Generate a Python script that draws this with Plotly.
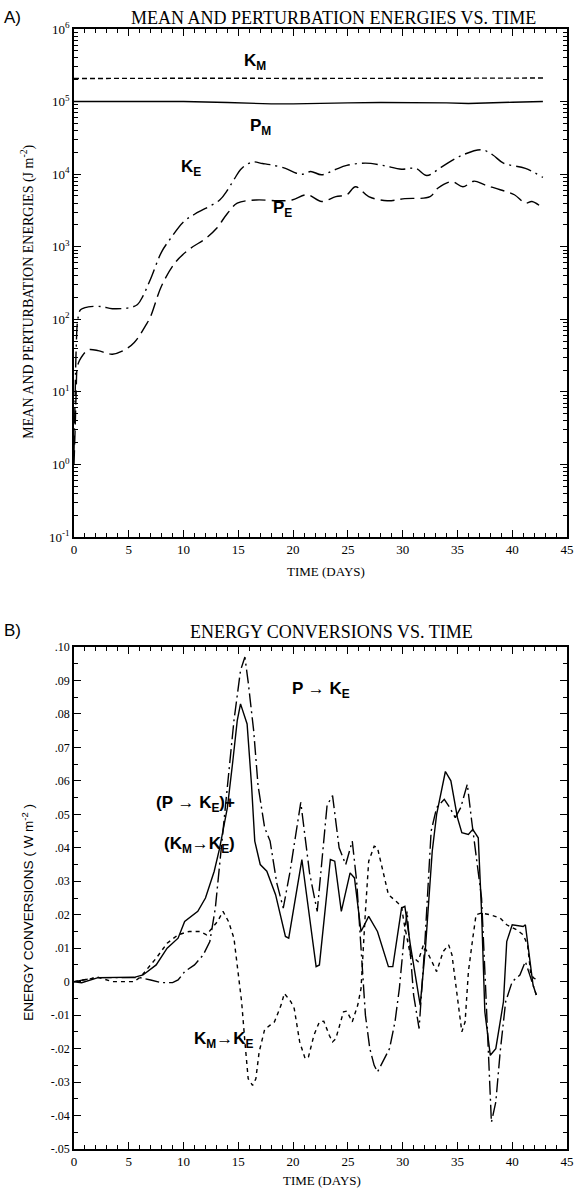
import plotly.graph_objects as go

# ---------------- Panel A data (days, J m^-2) ----------------
km_day = [0, 5, 10, 15, 20, 25, 30, 35, 40, 43]
km_val = [2.08e5, 2.1e5, 2.09e5, 2.1e5, 2.08e5, 2.09e5, 2.1e5, 2.09e5, 2.1e5, 2.11e5]

pm_day = [0, 3, 6, 10, 14, 16, 18, 20, 22, 25, 28, 31, 34, 36, 38, 40, 42.8]
pm_val = [1.0e5, 1.0e5, 1.01e5, 1.0e5, 0.97e5, 0.94e5, 0.93e5, 0.93e5, 0.95e5, 0.96e5,
          0.97e5, 0.97e5, 0.96e5, 0.94e5, 0.95e5, 0.98e5, 1.0e5]

ke_day = [0.0, 0.1, 0.2, 0.35, 0.6, 1.3, 2.5, 3.5, 5.1, 5.8,
          6.3, 7.0, 8.0, 8.8, 10.0, 11.0, 12.0, 13.3, 14.0, 14.6,
          15.3, 16.3, 17.2, 17.9, 19.3, 20.3, 21.0, 21.6, 22.6, 23.8,
          24.9, 26.6, 28.2, 29.9, 31.2, 32.2, 33.5, 35.2, 37.2, 38.2,
          39.2, 41.2, 42.8]
ke_val = [1.5, 8, 40, 100, 135, 148, 150, 140, 145, 160,
          210, 363, 850, 1290, 2200, 2800, 3370, 4400, 6000, 8400,
          12000, 14700, 14000, 13500, 12000, 10300, 10000, 10900, 9800, 11500,
          13200, 14200, 13200, 11700, 12000, 9600, 12400, 17600, 21700, 18500,
          14200, 12000, 9000]

pe_day = [0.0, 0.1, 0.2, 0.3, 0.5, 0.8, 1.3, 2.2, 3.0, 3.5,
          4.5, 5.5, 6.6, 7.0, 8.0, 9.3, 10.6, 12.0, 13.0, 14.0,
          14.9, 16.6, 18.6, 19.9, 21.3, 22.6, 23.9, 24.9, 25.7, 26.9,
          28.6, 30.2, 32.5, 33.2, 34.5, 35.5, 36.5, 37.5, 38.9, 40.2,
          41.2, 41.8, 42.8]
pe_val = [1.0, 3, 10, 22, 27, 32, 38, 37, 34, 33,
          37, 48, 85, 110, 290, 620, 940, 1290, 1780, 2870,
          3980, 4400, 4300, 4400, 5200, 4200, 4900, 5200, 6700, 4900,
          4300, 4600, 4900, 6400, 7900, 6700, 8000, 7100, 6100, 5200,
          3980, 4200, 3400]

# ---------------- Panel B data (days, W m^-2) ----------------
tot_day = [0, 0.7, 2.2, 3.5, 5.5, 6.3, 7.5, 8.5, 9.5, 10.1,
           11.3, 12.0, 12.8, 13.3, 14.0, 14.5, 14.9, 15.2, 15.8, 16.2,
           16.5, 17.0, 17.6, 18.4, 18.9, 19.3, 19.6, 20.8, 22.1, 22.4,
           23.4, 23.8, 24.4, 25.2, 25.6, 26.2, 26.9, 27.7, 28.7, 29.1,
           29.9, 30.2, 30.7, 31.6, 32.1, 32.7, 33.1, 33.9, 34.4, 34.8,
           35.0, 35.4, 36.0, 36.4, 36.9, 37.2, 37.5, 38.0, 38.5, 39.2,
           39.5, 40.0, 41.0, 41.2, 41.5, 41.9, 42.2]
tot_val = [0.0, -0.0003, 0.0012, 0.0013, 0.0013, 0.002, 0.005, 0.010, 0.013, 0.018,
           0.021, 0.025, 0.033, 0.040, 0.052, 0.066, 0.078, 0.083, 0.077, 0.059,
           0.042, 0.035, 0.033, 0.026, 0.019, 0.0135, 0.013, 0.0365, 0.0045, 0.005,
           0.0365, 0.036, 0.021, 0.0325, 0.031, 0.015, 0.0195, 0.015, 0.0045, 0.0045,
           0.022, 0.0225, 0.011, -0.007, 0.011, 0.039, 0.050, 0.0628, 0.060, 0.052,
           0.049, 0.0445, 0.044, 0.0455, 0.043, 0.021, -0.009, -0.022, -0.020, -0.006,
           0.012, 0.017, 0.0165, 0.017, 0.009, -0.001, -0.004]

pk_day = [0, 2, 4, 6, 7.0, 8.0, 9.0, 9.5, 10.1, 11.0,
          11.8, 12.4, 12.9, 13.5, 14.1, 14.6, 15.2, 15.6, 15.9, 16.4,
          16.8, 17.4, 17.9, 18.5, 19.1, 19.7, 20.7, 21.5, 22.2, 23.1,
          23.6, 24.2, 24.8, 25.4, 25.8, 26.2, 26.6, 27.0, 27.4, 27.7,
          28.2, 28.8, 29.3, 29.7, 30.1, 30.4, 31.0, 31.5, 32.0, 32.6,
          33.1, 33.8, 34.3, 34.8, 35.3, 35.9, 36.3, 36.7, 37.2, 37.6,
          37.9, 38.1, 38.5, 38.9, 39.4, 40.0, 40.7, 41.2, 41.5, 41.9,
          42.2]
pk_val = [0.0, 0.0012, 0.0012, 0.0012, 0.0005, -0.0003, -0.0003, 0.0005, 0.003, 0.005,
          0.008, 0.012, 0.022, 0.042, 0.063, 0.078, 0.093, 0.097, 0.0895, 0.075,
          0.0586, 0.046, 0.042, 0.0296, 0.022, 0.0325, 0.0536, 0.0325, 0.021, 0.0527,
          0.0556, 0.040, 0.035, 0.042, 0.030, 0.010, -0.010, -0.020, -0.025, -0.027,
          -0.024, -0.020, -0.012, -0.002, 0.012, 0.021, -0.004, -0.014, 0.010, 0.045,
          0.052, 0.0545, 0.052, 0.049, 0.052, 0.059, 0.048, 0.038, 0.025, -0.004,
          -0.030, -0.042, -0.036, -0.021, -0.006, 0.000, 0.002, 0.006, 0.003, -0.001,
          -0.004]

mk_day = [0, 1, 2.2, 3.5, 5.5, 6.1, 7.5, 8.5, 9.5, 10.5,
          11.5, 12.1, 13.1, 13.6, 14.1, 14.6, 15.0, 15.3, 15.6, 15.9,
          16.3, 16.6, 16.9, 17.4, 17.9, 18.3, 18.9, 19.2, 19.8, 20.1,
          20.6, 21.1, 21.4, 21.9, 22.4, 22.8, 23.3, 23.6, 23.9, 24.6,
          24.9, 25.4, 25.9, 26.2, 26.6, 26.9, 27.4, 27.7, 28.2, 28.7,
          29.4, 29.9, 30.1, 30.7, 31.4, 31.9, 32.6, 33.1, 33.7, 34.2,
          34.5, 35.0, 35.4, 35.7, 36.0, 36.4, 36.7, 37.2, 38.0, 38.9,
          39.5, 40.4, 41.0, 41.4, 41.7, 42.0, 42.4]
mk_val = [0.0, 0.0005, 0.0013, 0.0, 0.0, 0.0015, 0.007, 0.0115, 0.014, 0.015,
          0.015, 0.014, 0.018, 0.021, 0.018, 0.013, 0.001, -0.006, -0.018, -0.029,
          -0.031, -0.029, -0.021, -0.0143, -0.013, -0.012, -0.007, -0.0035, -0.006, -0.008,
          -0.018, -0.023, -0.0225, -0.016, -0.012, -0.0118, -0.016, -0.018, -0.017, -0.009,
          -0.0088, -0.012, -0.007, -0.002, 0.021, 0.036, 0.0405, 0.040, 0.033, 0.026,
          0.024, 0.0225, 0.018, 0.008, 0.006, 0.011, 0.0065, 0.003, 0.009, 0.011,
          0.008, -0.005, -0.015, -0.012, 0.003, 0.013, 0.020, 0.0205, 0.020, 0.019,
          0.017, 0.0155, 0.014, 0.011, 0.002, 0.001, 0.0005]

x_ticks = [0, 5, 10, 15, 20, 25, 30, 35, 40, 45]
a_ticks = [0.1, 1, 10, 100, 1e3, 1e4, 1e5, 1e6]
a_ticktext = ["10<sup>-1</sup>", "10<sup>0</sup>", "10<sup>1</sup>", "10<sup>2</sup>",
              "10<sup>3</sup>", "10<sup>4</sup>", "10<sup>5</sup>", "10<sup>6</sup>"]
b_ticks = [0.10, 0.09, 0.08, 0.07, 0.06, 0.05, 0.04, 0.03, 0.02, 0.01, 0.0,
           -0.01, -0.02, -0.03, -0.04, -0.05]
b_ticktext = [".10", ".09", ".08", ".07", ".06", ".05", ".04", ".03", ".02", ".01", "0",
              "-.01", "-.02", "-.03", "-.04", "-.05"]

# ---------------- layout geometry (pixels) ----------------
W, H = 582, 1192
L, R, T, B = 74, 8, 29, 43
PW, PH = W - L - R, H - T - B


def pxx(x):
    return (x - L) / PW


def pxy(y):
    return 1 - (y - T) / PH


SERIF = "Liberation Serif, Times New Roman, serif"
SANS = "Liberation Sans, Arial, DejaVu Sans, sans-serif"

fig = go.Figure()
line_w = 1.4
fig.add_trace(go.Scatter(x=km_day, y=km_val, mode="lines", xaxis="x", yaxis="y",
                         line=dict(color="black", width=line_w, dash="5px,3px")))
fig.add_trace(go.Scatter(x=pm_day, y=pm_val, mode="lines", xaxis="x", yaxis="y",
                         line=dict(color="black", width=line_w)))
fig.add_trace(go.Scatter(x=ke_day, y=ke_val, mode="lines", xaxis="x", yaxis="y",
                         line=dict(color="black", width=line_w, dash="16px,5px,2px,5px"),
                         line_shape="spline"))
fig.add_trace(go.Scatter(x=pe_day, y=pe_val, mode="lines", xaxis="x", yaxis="y",
                         line=dict(color="black", width=line_w, dash="14px,6px"),
                         line_shape="spline"))

fig.add_trace(go.Scatter(x=tot_day, y=tot_val, mode="lines", xaxis="x2", yaxis="y2",
                         line=dict(color="black", width=line_w)))
fig.add_trace(go.Scatter(x=pk_day, y=pk_val, mode="lines", xaxis="x2", yaxis="y2",
                         line=dict(color="black", width=line_w, dash="14px,4px,2px,4px")))
fig.add_trace(go.Scatter(x=mk_day, y=mk_val, mode="lines", xaxis="x2", yaxis="y2",
                         line=dict(color="black", width=line_w, dash="4px,4px")))

top_dom = [pxy(537), 1.0]
bot_dom = [0.0, pxy(647)]

xcommon = dict(range=[0, 45], tickvals=x_ticks, ticks="inside", ticklen=7, tickwidth=1.3,
               tickcolor="black", showline=True, linecolor="black", linewidth=1.5, mirror="ticks",
               showgrid=False, zeroline=False, tickfont=dict(family=SERIF, size=13, color="black"),
               minor=dict(dtick=1, ticks="inside", ticklen=4, tickcolor="black", tickwidth=1),
               fixedrange=True)

minor_log = [m * 10 ** k for k in range(-1, 6) for m in range(2, 10)]

fig.update_layout(
    width=W, height=H, margin=dict(l=L, r=R, t=T, b=B),
    paper_bgcolor="white", plot_bgcolor="white", showlegend=False,
    xaxis=dict(domain=[0, 1], anchor="y", **xcommon),
    yaxis=dict(domain=top_dom, anchor="x", type="log", range=[-1, 6], tickvals=a_ticks,
               ticktext=a_ticktext, ticks="inside", ticklen=7, tickwidth=1.3, tickcolor="black",
               showline=True, linecolor="black", linewidth=1.5, mirror="ticks", showgrid=False,
               tickfont=dict(family=SERIF, size=13, color="black"), fixedrange=True,
               minor=dict(tickvals=minor_log, ticks="inside", ticklen=4, tickcolor="black",
                          tickwidth=1)),
    xaxis2=dict(domain=[0, 1], anchor="y2", **xcommon),
    yaxis2=dict(domain=bot_dom, anchor="x2", range=[-0.05, 0.10], tickvals=b_ticks,
                ticktext=b_ticktext, ticks="inside", ticklen=7, tickwidth=1.3, tickcolor="black",
                showline=True, linecolor="black", linewidth=1.5, mirror="ticks", showgrid=False,
                zeroline=False, tickfont=dict(family=SERIF, size=12, color="black"),
                fixedrange=True,
                minor=dict(dtick=0.005, ticks="inside", ticklen=4, tickcolor="black",
                           tickwidth=1)),
)

anns = []


def add_text(x, y, text, size, family, angle=0, xanchor="center"):
    anns.append(dict(x=pxx(x), y=pxy(y), xref="paper", yref="paper", text=text, showarrow=False,
                     xanchor=xanchor, yanchor="middle", textangle=angle,
                     font=dict(family=family, size=size, color="black")))


add_text(1, 17, "A)", 17, SANS, xanchor="left")
add_text(337, 18, "MEAN AND PERTURBATION ENERGIES VS. TIME", 18, SERIF)
add_text(27, 292, "MEAN AND PERTURBATION ENERGIES (J m<sup>-2</sup>)", 14, SERIF, angle=-90)
add_text(330, 572, "TIME (DAYS)", 13, SERIF)
add_text(1, 630, "B)", 17, SANS, xanchor="left")
add_text(335, 632, "ENERGY CONVERSIONS VS. TIME", 18, SERIF)
add_text(27, 912, "ENERGY CONVERSIONS ( W m<sup>-2</sup> )", 13.5, SANS, angle=-90)
add_text(326, 1180, "TIME (DAYS)", 13, SERIF)

# curve labels
add_text(258, 62, "<b>K<sub>M</sub></b>", 17, SANS)
add_text(263, 127, "<b>P<sub>M</sub></b>", 17, SANS)
add_text(193, 168, "<b>K<sub>E</sub></b>", 17, SANS)
add_text(285, 209, "<b>P<sub>E</sub></b>", 17, SANS)
add_text(325, 690, "<b>P \u2192 K<sub>E</sub></b>", 17, SANS)
add_text(197, 804, "<b>(P \u2192 K<sub>E</sub>)+</b>", 17, SANS)
add_text(201, 845, "<b>(K<sub>M</sub>\u2192K<sub>E</sub>)</b>", 17, SANS)
add_text(226, 1040, "<b>K<sub>M</sub>\u2192K<sub>E</sub></b>", 17, SANS)

fig.update_layout(annotations=anns, hovermode=False)
fig.write_html("out.html", config={"displayModeBar": False},
               post_script="document.body.style.margin='0';document.body.style.overflow='hidden';")
